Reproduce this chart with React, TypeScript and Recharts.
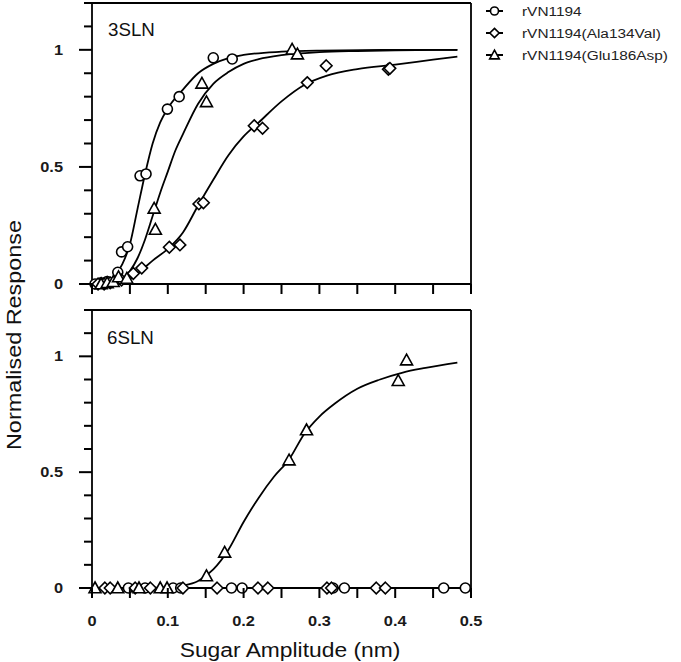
import React from 'react';
import { ComposedChart, Line, Scatter, XAxis, YAxis, ReferenceLine } from 'recharts';

const FONT = '"Liberation Sans", Arial, Helvetica, sans-serif';
const SX = 1.17;
const TICK_COLOR = '#000';

// ---- axes ----
const xTicks = [0, 0.05, 0.1, 0.15, 0.2, 0.25, 0.3, 0.35, 0.4, 0.45, 0.5];
const xLabelValues = [0, 0.1, 0.2, 0.3, 0.4, 0.5];
const xTickLabels = ['0', '0.1', '0.2', '0.3', '0.4', '0.5'];
const yTicks = [0, 0.1, 0.2, 0.3, 0.4, 0.5, 0.6, 0.7, 0.8, 0.9, 1.0, 1.1, 1.2];
const yLabelValues = [0, 0.5, 1];
const yTickLabels = ['0', '0.5', '1'];
const xMax = 0.5;
const yMax = 1.2;

const seriesNames = ['rVN1194', 'rVN1194(Ala134Val)', 'rVN1194(Glu186Asp)'];
const panelNames = ['3SLN', '6SLN'];
const xTitle = 'Sugar Amplitude (nm)';
const yTitle = 'Normalised Response';

// ---- 3SLN panel: measured points ----
const circ3X = [0.004, 0.012, 0.02, 0.034, 0.039, 0.047, 0.0634, 0.0713, 0.0995, 0.115, 0.16, 0.185];
const circ3Y = [0.0, 0.005, 0.01, 0.05, 0.137, 0.159, 0.462, 0.47, 0.747, 0.8, 0.966, 0.961];
const dia3X = [0.008, 0.016, 0.024, 0.039, 0.0545, 0.0656, 0.102, 0.116, 0.141, 0.147, 0.214, 0.225, 0.284, 0.309, 0.391, 0.393];
const dia3Y = [0.0, 0.0, 0.005, 0.017, 0.045, 0.068, 0.157, 0.167, 0.342, 0.347, 0.676, 0.665, 0.86, 0.932, 0.917, 0.921];
const tri3X = [0.012, 0.02, 0.028, 0.035, 0.046, 0.082, 0.0836, 0.145, 0.151, 0.264, 0.271];
const tri3Y = [0.0, 0.005, 0.01, 0.03, 0.024, 0.323, 0.233, 0.857, 0.778, 1.002, 0.982];

// ---- 3SLN panel: fitted curves ----
const fitC3X = [0, 0.01, 0.02, 0.03, 0.04, 0.05, 0.06, 0.07, 0.08, 0.09, 0.1, 0.12, 0.14, 0.16, 0.18, 0.2, 0.25, 0.3, 0.4, 0.482];
const fitC3Y = [0, 0.002, 0.01, 0.035, 0.085, 0.17, 0.32, 0.47, 0.6, 0.69, 0.75, 0.83, 0.9, 0.94, 0.965, 0.978, 0.992, 0.997, 1.0, 1.0];
const fitT3X = [0, 0.02, 0.03, 0.04, 0.05, 0.06, 0.07, 0.08, 0.09, 0.1, 0.11, 0.12, 0.14, 0.16, 0.18, 0.2, 0.22, 0.25, 0.3, 0.35, 0.4, 0.482];
const fitT3Y = [0, 0.0, 0.005, 0.02, 0.055, 0.11, 0.19, 0.29, 0.39, 0.48, 0.57, 0.64, 0.77, 0.855, 0.905, 0.94, 0.96, 0.977, 0.99, 0.995, 0.998, 1.0];
const fitD3X = [0, 0.02, 0.04, 0.06, 0.08, 0.1, 0.12, 0.14, 0.16, 0.18, 0.2, 0.22, 0.25, 0.28, 0.31, 0.35, 0.4, 0.45, 0.482];
const fitD3Y = [0, 0.0, 0.006, 0.045, 0.1, 0.15, 0.22, 0.335, 0.445, 0.55, 0.63, 0.69, 0.78, 0.85, 0.89, 0.918, 0.937, 0.958, 0.971];

// ---- 6SLN panel: measured points ----
const circ6X = [0.048, 0.07, 0.107, 0.117, 0.184, 0.198, 0.318, 0.333, 0.464, 0.4925];
const circ6Y = [0, 0, 0, 0, 0, 0, 0, 0, 0, 0];
const dia6X = [0.017, 0.024, 0.057, 0.077, 0.12, 0.165, 0.219, 0.232, 0.31, 0.316, 0.375, 0.387];
const dia6Y = [0, 0, 0, 0, 0, 0, 0, 0, 0, 0, 0, 0];
const tri6X = [0.004, 0.034, 0.062, 0.09, 0.099, 0.151, 0.175, 0.26, 0.283, 0.404, 0.415];
const tri6Y = [0, 0, 0, 0, 0, 0.052, 0.154, 0.552, 0.682, 0.895, 0.984];

// ---- 6SLN panel: fitted curves ----
const fitT6X = [0, 0.05, 0.1, 0.12, 0.14, 0.16, 0.18, 0.2, 0.22, 0.24, 0.26, 0.28, 0.3, 0.32, 0.35, 0.38, 0.41, 0.44, 0.482];
const fitT6Y = [0, 0, 0.003, 0.01, 0.03, 0.08, 0.165, 0.285, 0.39, 0.48, 0.555, 0.665, 0.74, 0.795, 0.86, 0.9, 0.93, 0.95, 0.973];
const fitZero6X = [0, 0.4925];
const fitZero6Y = [0, 0];

const zip = (xs: number[], ys: number[]) => xs.map((x, i) => ({ x, y: ys[i] }));

type Kind = 'circle' | 'diamond' | 'triangle';
const kinds: Kind[] = ['circle', 'diamond', 'triangle'];

function markerEl(kind: Kind, cx: number, cy: number, s: number, key?: any) {
  const stroke = '#000';
  const sw = 1.6;
  if (kind === 'circle') {
    return <circle key={key} cx={cx} cy={cy} r={5 * s} fill="#fff" stroke={stroke} strokeWidth={sw} />;
  }
  if (kind === 'diamond') {
    const d = 5.8 * s;
    return <path key={key} d={`M${cx} ${cy - d}L${cx + d} ${cy}L${cx} ${cy + d}L${cx - d} ${cy}Z`} fill="#fff" stroke={stroke} strokeWidth={sw} />;
  }
  const h = 6 * s;
  return <path key={key} d={`M${cx} ${cy - h}L${cx + h} ${cy + 0.8 * h}L${cx - h} ${cy + 0.8 * h}Z`} fill="#fff" stroke={stroke} strokeWidth={sw} />;
}

const makeShape = (kind: Kind) => (props: any) => {
  const { cx, cy } = props;
  if (cx == null || cy == null) return <g />;
  return markerEl(kind, Number(cx), Number(cy), 1);
};

const X_TICK_LEN = 10;
const Y_MINOR_LEN = 8;
const Y_MAJOR_LEN = 13;

const XTick = (props: any) => {
  const { x, y, payload, showLabels } = props;
  const v = Number(payload.value);
  const idx = xLabelValues.findIndex((l) => Math.abs(l - v) < 1e-6);
  const px = Number(x);
  const axisY = Number(y) - X_TICK_LEN;
  return (
    <g>
      <rect x={px - 1} y={axisY} width={2} height={X_TICK_LEN} fill={TICK_COLOR} />
      {showLabels && idx >= 0 && (
        <text transform={`translate(${px} ${axisY + 38}) scale(${SX} 1)`} textAnchor="middle" fontFamily={FONT} fontSize={14} fontWeight="bold" fill="#1a1a1a">
          {xTickLabels[idx]}
        </text>
      )}
    </g>
  );
};

const YTick = (props: any) => {
  const { x, y, payload } = props;
  const v = Number(payload.value);
  const idx = yLabelValues.findIndex((l) => Math.abs(l - v) < 1e-6);
  const axisX = Number(x) + Y_MINOR_LEN;
  const py = Number(y);
  const len = idx >= 0 ? Y_MAJOR_LEN : Y_MINOR_LEN;
  return (
    <g>
      <rect x={axisX - len} y={py - 1} width={len} height={2} fill={TICK_COLOR} />
      {idx >= 0 && (
        <text transform={`translate(${axisX - 29} ${py + 5}) scale(${SX} 1)`} textAnchor="end" fontFamily={FONT} fontSize={14} fontWeight="bold" fill="#1a1a1a">
          {yTickLabels[idx]}
        </text>
      )}
    </g>
  );
};

const axisLine = { stroke: '#000', strokeWidth: 1.8 };

function Panel(props: { height: number; marginTop: number; xAxisHeight: number; showXLabels: boolean; lines: { x: number; y: number }[][]; points: { x: number; y: number }[][] }) {
  const { height, marginTop, xAxisHeight, showXLabels, lines, points } = props;
  return (
    <ComposedChart width={681} height={height} margin={{ top: marginTop, right: 210, bottom: 0, left: 0 }}>
      <XAxis dataKey="x" type="number" domain={[0, xMax]} ticks={xTicks} interval={0} height={xAxisHeight} stroke="#000" axisLine={axisLine} tickLine={false} tickSize={X_TICK_LEN} tickMargin={0} tick={<XTick showLabels={showXLabels} />} />
      <YAxis dataKey="y" type="number" domain={[0, yMax]} ticks={yTicks} interval={0} width={92} stroke="#000" axisLine={axisLine} tickLine={false} tickSize={Y_MINOR_LEN} tickMargin={0} tick={<YTick />} />
      <ReferenceLine y={yMax} stroke="#000" strokeWidth={1.8} />
      <ReferenceLine x={xMax} stroke="#000" strokeWidth={1.8} />
      {lines.map((d, i) => (
        <Line key={'l' + i} data={d} dataKey="y" type="monotone" stroke="#000" strokeWidth={1.8} dot={false} activeDot={false} isAnimationActive={false} />
      ))}
      {points.map((d, i) => (
        <Scatter key={'s' + i} data={d} dataKey="y" shape={makeShape(kinds[i])} isAnimationActive={false} />
      ))}
    </ComposedChart>
  );
}

export default function App() {
  const topLines = [zip(fitC3X, fitC3Y), zip(fitT3X, fitT3Y), zip(fitD3X, fitD3Y)];
  const topPoints = [zip(circ3X, circ3Y), zip(dia3X, dia3Y), zip(tri3X, tri3Y)];
  const botLines = [zip(fitZero6X, fitZero6Y), zip(fitT6X, fitT6Y)];
  const botPoints = [zip(circ6X, circ6Y), zip(dia6X, dia6Y), zip(tri6X, tri6Y)];
  const legendRows = [11, 33, 55];

  return (
    <div style={{ position: 'absolute', left: 0, top: 0, width: 681, height: 662, background: '#fff', overflow: 'hidden' }}>
      <div style={{ position: 'absolute', left: 0, top: 0 }}>
        <Panel height={300} marginTop={3} xAxisHeight={16} showXLabels={false} lines={topLines} points={topPoints} />
      </div>
      <div style={{ position: 'absolute', left: 0, top: 300 }}>
        <Panel height={362} marginTop={10} xAxisHeight={74} showXLabels={true} lines={botLines} points={botPoints} />
      </div>
      <svg width={681} height={662} style={{ position: 'absolute', left: 0, top: 0, pointerEvents: 'none' }}>
        {seriesNames.map((name, i) => (
          <g key={name}>
            <rect x={486} y={legendRows[i] - 1} width={17} height={2} fill={TICK_COLOR} />
            {markerEl(kinds[i], 494.5, legendRows[i], 0.8)}
            <text transform={`translate(522 ${legendRows[i] + 5}) scale(1.14 1)`} fontFamily={FONT} fontSize={13.5} fill="#222">
              {name}
            </text>
          </g>
        ))}
        <text transform={`translate(108 36) scale(1.07 1)`} fontFamily={FONT} fontSize={17.5} fill="#111">{panelNames[0]}</text>
        <text transform={`translate(107 343.5) scale(1.07 1)`} fontFamily={FONT} fontSize={17.5} fill="#111">{panelNames[1]}</text>
        <text transform={`translate(290 657) scale(${SX} 1)`} textAnchor="middle" fontFamily={FONT} fontSize={19.5} fill="#111">{xTitle}</text>
        <text transform={`translate(21 335) rotate(-90) scale(${SX} 1)`} textAnchor="middle" fontFamily={FONT} fontSize={20} fill="#111">{yTitle}</text>
      </svg>
    </div>
  );
}
